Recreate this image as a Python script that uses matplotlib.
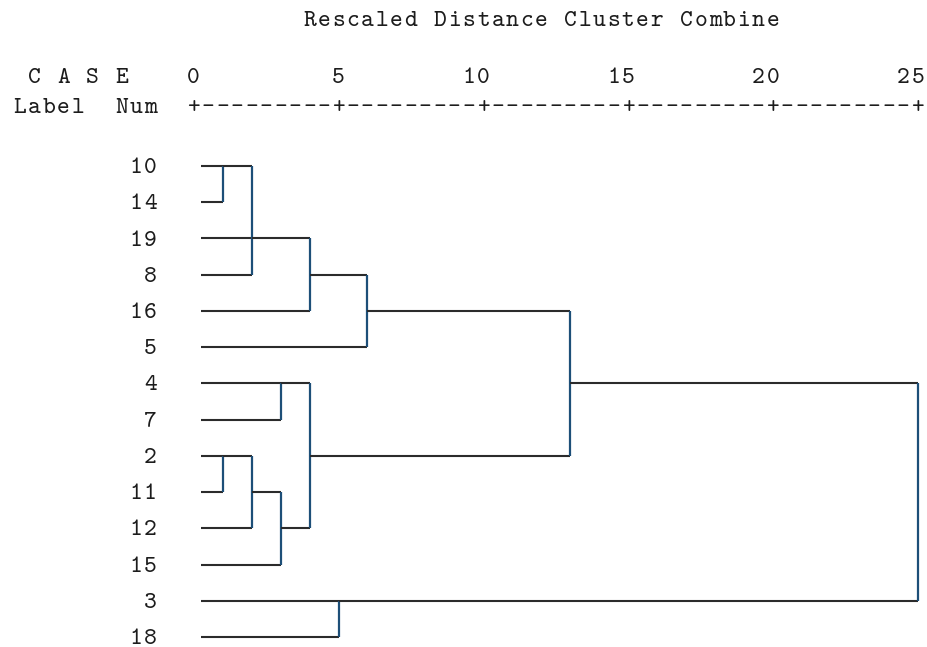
import matplotlib.pyplot as plt

# case labels, top to bottom
cases = ['10', '14', '19', '8', '16', '5', '4', '7', '2', '11', '12', '15', '3', '18']

# merges: rows joined, rescaled distance, row that carries the new cluster
merge_rows = [[0, 1], [0, 2, 3], [2, 4], [3, 5], [6, 7], [8, 9], [8, 10],
              [9, 11], [6, 10], [4, 8], [12, 13], [6, 12]]
merge_dist = [1, 2, 4, 6, 3, 1, 2, 3, 4, 13, 5, 25]
merge_out = [0, 2, 3, 4, 6, 8, 9, 10, 8, 6, 12, None]

scale_ticks = [0, 5, 10, 15, 20, 25]
title = 'Rescaled Distance Cluster Combine'

fnt = 'cmtt10'
fs = 17.5
ink = '#1c1c1c'
dy = 0.07  # nudge text down onto the row lines


def col(c):
    # monospace grid: column 12 sits on distance 0, two columns per unit
    return (c - 12) * 0.5


def put(text, c0, y, align='left'):
    # write a string one character per grid column
    if align == 'right':
        c0 = c0 - len(text) + 1
    for i, ch in enumerate(text):
        if ch != ' ':
            ax.text(col(c0 + i), y + dy, ch, ha='center', va='center',
                    fontsize=fs, family=fnt, color=ink)


fig = plt.figure(figsize=(9.27, 6.47), dpi=100)
ax = fig.add_axes([0, 0, 1, 1])
ax.set_xlim(-6.689, 25.32)
ax.set_ylim(13.276, -4.582)
ax.axis('off')

# header
put(title, 20, -4.06)
put(' C A S E', 0, -2.48)
put('Label', 0, -1.66)
put('Num', 9, -1.66, 'right')
for t in scale_ticks:
    put(str(t), 12 + 2 * t, -2.48, 'right')
ruler = '+' + '+'.join(['-' * 9] * 5) + '+'
put(ruler, 12, -1.66)

# case numbers
for r, lab in enumerate(cases):
    put(lab, 9, r, 'right')

# dendrogram
start = 0.25
node_x = [start] * len(cases)
for rows, d, out in zip(merge_rows, merge_dist, merge_out):
    for r in rows:
        ax.plot([node_x[r], d], [r, r], color='#2b2b2b', lw=1.5,
                solid_capstyle='butt')
    ax.plot([d, d], [min(rows), max(rows)], color='#1d4f78', lw=1.6,
            solid_capstyle='butt')
    if out is not None:
        node_x[out] = d

fig.savefig('out.png', dpi=100)
